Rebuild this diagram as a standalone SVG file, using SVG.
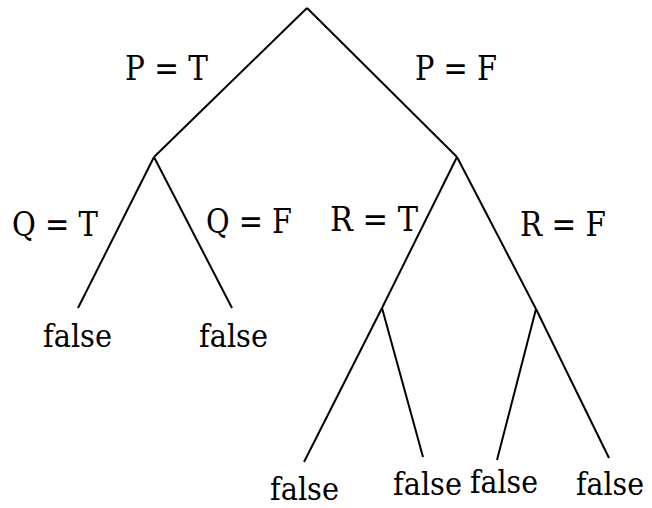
<svg xmlns="http://www.w3.org/2000/svg" width="652" height="508" viewBox="0 0 652 508">
<style>
.e{stroke:#000;stroke-width:2;fill:none;stroke-linecap:butt}
.t{font-family:'DejaVu Serif','Liberation Serif',serif;font-size:34px;fill:#000}
.f{font-family:'DejaVu Serif','Liberation Serif',serif;font-size:32px;fill:#000}
</style>
<rect width="652" height="508" fill="#fff"/>
<g id="connectors">
<line class="e" x1="307" y1="8" x2="154" y2="157"/>
<line class="e" x1="307" y1="8" x2="457" y2="157"/>
<line class="e" x1="154" y1="157" x2="78" y2="308"/>
<line class="e" x1="154" y1="157" x2="232" y2="308"/>
<line class="e" x1="457" y1="157" x2="382" y2="308"/>
<line class="e" x1="457" y1="157" x2="536" y2="309"/>
<line class="e" x1="382" y1="308" x2="304" y2="462"/>
<line class="e" x1="382" y1="308" x2="423" y2="457"/>
<line class="e" x1="536" y1="309" x2="497" y2="460"/>
<line class="e" x1="536" y1="309" x2="609" y2="458"/>
</g>
<g id="edge-labels" class="t">
<text x="125" y="80" textLength="83" lengthAdjust="spacingAndGlyphs">P = T</text>
<text x="415" y="80" textLength="82" lengthAdjust="spacingAndGlyphs">P = F</text>
<text x="12" y="236" textLength="86" lengthAdjust="spacingAndGlyphs">Q = T</text>
<text x="206" y="233" textLength="86" lengthAdjust="spacingAndGlyphs">Q = F</text>
<text x="330" y="231" textLength="88" lengthAdjust="spacingAndGlyphs">R = T</text>
<text x="520" y="236" textLength="86" lengthAdjust="spacingAndGlyphs">R = F</text>
</g>
<g class="f">
<g id="leaf1"><text x="43" y="347" textLength="69" lengthAdjust="spacingAndGlyphs">false</text></g>
<g id="leaf2"><text x="199" y="347" textLength="69" lengthAdjust="spacingAndGlyphs">false</text></g>
<g id="leaf3"><text x="270" y="500" textLength="69" lengthAdjust="spacingAndGlyphs">false</text></g>
<g id="leaf4"><text x="393" y="495" textLength="69" lengthAdjust="spacingAndGlyphs">false</text></g>
<g id="leaf5"><text x="470" y="493" textLength="68" lengthAdjust="spacingAndGlyphs">false</text></g>
<g id="leaf6"><text x="576" y="495" textLength="68" lengthAdjust="spacingAndGlyphs">false</text></g>
</g>
</svg>
